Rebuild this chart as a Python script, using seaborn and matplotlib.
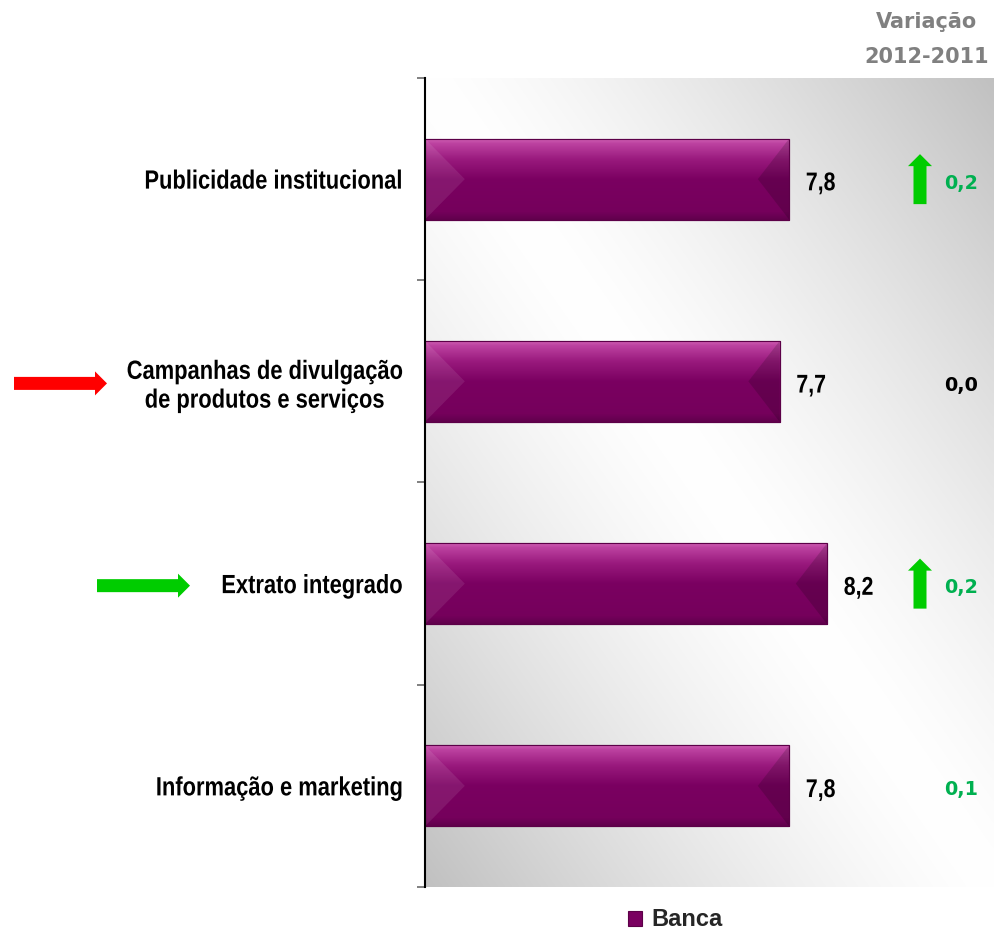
import numpy as np
import matplotlib
matplotlib.use("Agg")
import matplotlib.pyplot as plt
import matplotlib.patches as mpatches
import matplotlib.transforms as mtransforms
from matplotlib.patheffects import AbstractPathEffect
import seaborn as sns
import pandas as pd

# --- data -------------------------------------------------------------
categories = [
    "Publicidade institucional",
    "Campanhas de divulgação\nde produtos e serviços",
    "Extrato integrado",
    "Informação e marketing",
]
scores = [7.8, 7.7, 8.2, 7.8]
changes = [0.2, 0.0, 0.2, 0.1]
change_colors = ["#00B050", "#000000", "#00B050", "#00B050"]
change_up = [True, False, True, False]
side_arrow_colors = [None, "#FF0000", "#00CC00", None]
series_name = "Banca"
header_lines = ["Variação", "2012-2011"]


def fmt(v):
    return f"{v:.1f}".replace(".", ",")


class Condense(AbstractPathEffect):
    """Squeeze glyphs horizontally about a reference x (display pixels)."""

    def __init__(self, sx, x_ref=None):
        super().__init__()
        self.sx = sx
        self.x_ref = x_ref

    def draw_path(self, renderer, gc, tpath, affine, rgbFace=None):
        if self.x_ref is None:
            xr = affine.get_matrix()[0, 2]
        else:
            xr = self.x_ref() if callable(self.x_ref) else self.x_ref
        squeeze = (mtransforms.Affine2D().translate(-xr, 0)
                   .scale(self.sx, 1).translate(xr, 0))
        renderer.draw_path(gc, tpath, affine + squeeze, rgbFace)


sns.set_theme(style="white")
plt.rcParams["font.family"] = ["Liberation Sans", "DejaVu Sans"]
WIDE = ["DejaVu Sans"]
BAR = "#7a0060"
SQUEEZE = 0.83
LABEL_PAD = 16

fig = plt.figure(figsize=(9.94, 9.32), dpi=100)
ax = fig.add_axes([425 / 994, 1 - 887 / 932, 1 - 425 / 994, (887 - 78) / 932])

# --- diagonal grey-white background -----------------------------------
W, H = 570, 809
gx, gy = np.meshgrid(np.linspace(0, W, 300), np.linspace(0, H, 420))
d = np.abs(H * gx - W * gy) / np.hypot(W, H)
g = 1 - 0.245 * np.clip(d / 466, 0, 1) ** 1.35
bg = np.dstack([g, g, g])
ax.imshow(bg, extent=(0, 1, 0, 1), transform=ax.transAxes, aspect="auto",
          origin="upper", zorder=0, interpolation="bicubic")

# --- bars -------------------------------------------------------------
df = pd.DataFrame({"cat": categories, "score": scores})
sns.barplot(data=df, x="score", y="cat", orient="h", color=BAR, width=0.40,
            saturation=1, ax=ax, zorder=3, label=series_name,
            edgecolor="#5c0048", linewidth=0.8)

XMIN, XMAX = 3.96, 9.96
ax.set_xlim(XMIN, XMAX)
ax.set_ylim(3.5, -0.5)

# bevelled look on each bar
stops = np.array([0.0, 0.05, 0.25, 0.5, 0.9, 1.0])
cols = np.array([
    [0.80, 0.36, 0.69],
    [0.74, 0.26, 0.63],
    [0.60, 0.10, 0.49],
    [0.48, 0.00, 0.38],
    [0.46, 0.00, 0.36],
    [0.38, 0.00, 0.30],
])
rows = np.linspace(0, 1, 100)
grad = np.stack([np.interp(rows, stops, cols[:, k]) for k in range(3)], axis=1)
grad = grad[:, None, :]
bev_left, bev_right = 0.42, 0.33
for p in list(ax.patches):
    x0 = max(p.get_x(), XMIN)
    x1 = p.get_x() + p.get_width()
    ytop = p.get_y()
    ybot = p.get_y() + p.get_height()
    yc = (ytop + ybot) / 2
    im = ax.imshow(grad, extent=(x0, x1, ybot, ytop), origin="upper",
                   aspect="auto", zorder=3.5, interpolation="bilinear")
    im.set_clip_path(p)
    ax.add_patch(mpatches.Polygon([(x0, ytop), (x0 + bev_left, yc), (x0, ybot)],
                                  closed=True, facecolor="white", alpha=0.09,
                                  edgecolor="none", zorder=3.6))
    ax.add_patch(mpatches.Polygon([(x1, ytop), (x1 - bev_right, yc), (x1, ybot)],
                                  closed=True, facecolor="black", alpha=0.16,
                                  edgecolor="none", zorder=3.6))
    ax.add_patch(mpatches.Rectangle((x0, ytop), x1 - x0, ybot - ytop,
                                    fill=False, edgecolor="#5c0048",
                                    linewidth=0.8, zorder=3.7))

ax.set_xlim(XMIN, XMAX)
ax.set_ylim(3.5, -0.5)

# --- axes styling -----------------------------------------------------
for s in ("top", "right", "bottom"):
    ax.spines[s].set_visible(False)
ax.spines["left"].set_color("black")
ax.spines["left"].set_linewidth(1.5)
ax.spines["left"].set_zorder(5)
ax.xaxis.set_visible(False)
ax.set_ylabel("")
ax.set_yticks(np.arange(-0.5, 4, 1.0), minor=True)
ax.tick_params(axis="y", which="major", length=0, pad=LABEL_PAD, left=True)
ax.tick_params(axis="y", which="minor", length=6, width=1.4,
               color="#808080", left=True, direction="out")


def label_right_edge():
    return ax.get_window_extent().x0 - LABEL_PAD * fig.dpi / 72


for lab in ax.get_yticklabels():
    lab.set_fontsize(19)
    lab.set_fontweight("bold")
    lab.set_multialignment("center")
    lab.set_linespacing(1.25)
    lab.set_color("black")
    lab.set_path_effects([Condense(SQUEEZE, label_right_edge)])

# --- value labels -----------------------------------------------------
for i, v in enumerate(scores):
    ax.annotate(fmt(v), xy=(v, i), xytext=(12, -3), textcoords="offset points",
                ha="left", va="center", fontsize=18.5, fontweight="bold",
                color="black", zorder=6, path_effects=[Condense(SQUEEZE)])

mixed = mtransforms.blended_transform_factory(ax.transAxes, ax.transData)
for i, (c, col) in enumerate(zip(changes, change_colors)):
    ax.text(0.942, i + 0.02, fmt(c), transform=mixed, ha="center",
            va="center", fontsize=13.8, fontweight="bold", family=WIDE,
            color=col, zorder=6)


def pixel_shape(verts_px, anchor_xy, anchor_trans):
    """Polygon given in pixel offsets (y down) around an anchor point."""
    tr = fig.dpi_scale_trans + mtransforms.ScaledTranslation(
        anchor_xy[0], anchor_xy[1], anchor_trans)
    pts = [(x / fig.dpi, -y / fig.dpi) for x, y in verts_px]
    return mpatches.Polygon(pts, closed=True, transform=tr, clip_on=False)


up_px = [(-6.5, 25), (-6.5, -13), (-12, -13), (0, -25), (12, -13),
         (6.5, -13), (6.5, 25)]
for i, up in enumerate(change_up):
    if up:
        poly = pixel_shape(up_px, ((920 - 425) / 569, i), mixed)
        poly.set_facecolor("#00CC00")
        poly.set_edgecolor("none")
        poly.set_zorder(6)
        ax.add_artist(poly)

# arrows next to the category labels
fig_mixed = mtransforms.blended_transform_factory(fig.transFigure, ax.transData)
side_px = [(0, -6.5), (81, -6.5), (81, -12), (93, 0), (81, 12), (81, 6.5),
           (0, 6.5)]
side_start = {1: 14, 2: 97}
for i, col in enumerate(side_arrow_colors):
    if col is not None:
        poly = pixel_shape(side_px, (side_start[i] / 994, i + 0.01), fig_mixed)
        poly.set_facecolor(col)
        poly.set_edgecolor("none")
        fig.add_artist(poly)

# --- header & legend --------------------------------------------------
fig.text(927 / 994, 1 - 22 / 932, header_lines[0], ha="center", va="center",
         fontsize=15, fontweight="bold", family=WIDE, color="#808080")
fig.text(927 / 994, 1 - 57 / 932, header_lines[1], ha="center", va="center",
         fontsize=15, fontweight="bold", family=WIDE, color="#808080")

handles, labels = ax.get_legend_handles_labels()
if ax.get_legend() is not None:
    ax.get_legend().remove()
fig.legend(handles[:1], labels[:1], loc="center",
           bbox_to_anchor=(675 / 994, 1 - 920 / 932), frameon=False,
           prop=dict(weight="bold", size=17), handlelength=0.6,
           handleheight=0.6, handletextpad=0.4, borderpad=0)

fig.savefig("out.png", dpi=100)
